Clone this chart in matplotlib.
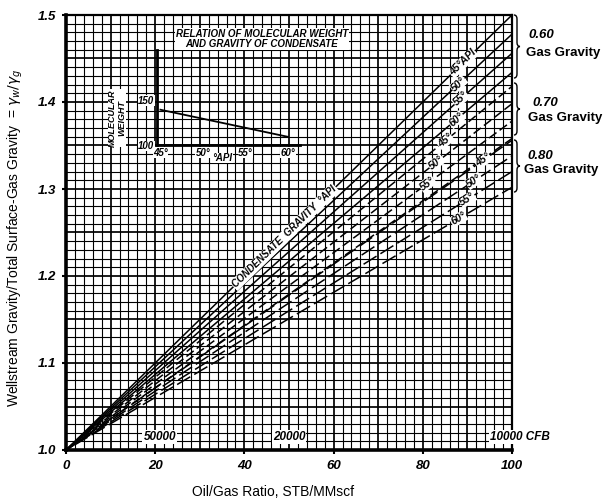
import numpy as np
import matplotlib.pyplot as plt
from matplotlib.patches import PathPatch
from matplotlib.path import Path

# ---- data -----------------------------------------------------------------
gas_gravities = ["0.60", "0.70", "0.80"]
api_labels = ["45°", "50°", "55°", "60°"]
ogr_start, ogr_end = 0, 100
ratio_start = 1.0
# wellstream / gas gravity ratio reached at 100 STB/MMscf
ratio_end_060 = [1.500, 1.478, 1.456, 1.434]
ratio_end_070 = [1.418, 1.398, 1.378, 1.358]
ratio_end_080 = [1.356, 1.338, 1.320, 1.302]
# where each curve carries its API label (oil/gas ratio)
label_x_060 = [89.0, 88.0, 88.5, 87.5]
label_x_070 = [85.0, 83.0, 81.0, None]
label_x_080 = [93.5, 91.5, 90.0, 88.0]

# inset: molecular weight vs condensate gravity
inset_api = [45, 60]
inset_mw = [139, 109]

x_ticks = [0, 20, 40, 60, 80, 100]
y_ticks = [1.0, 1.1, 1.2, 1.3, 1.4, 1.5]
gor_labels = ["50000", "20000", "10000 CFB"]
gor_x = [21, 50, 95]

W, H = 604, 504
FONT = "Liberation Sans"


def fx(px):
    return px / W


def fy(py):
    return 1 - py / H


fig = plt.figure(figsize=(W / 100, H / 100), dpi=100)
ax = fig.add_axes([fx(66), fy(450), fx(512) - fx(66), fy(15) - fy(450)])
ax.set_xlim(0, 100)
ax.set_ylim(1.0, 1.5)

# graph-paper grid
for xv in np.arange(0, 101, 2):
    major = xv % 10 == 0
    ax.axvline(xv, color="black", lw=1.25 if major else 0.8, zorder=1)
for yv in np.arange(1.0, 1.5001, 0.01):
    major = abs(yv * 100 - round(yv * 20) * 5) < 1e-6
    ax.axhline(yv, color="black", lw=1.25 if major else 0.8, zorder=1)

for s in ["left", "bottom"]:
    ax.spines[s].set_linewidth(2.6)
for s in ["top", "right"]:
    ax.spines[s].set_linewidth(1.6)

ax.set_xticks(x_ticks)
ax.set_yticks(y_ticks)
ax.set_xticklabels([str(v) for v in x_ticks])
ax.set_yticklabels([f"{v:.1f}" for v in y_ticks])
ax.tick_params(length=3, width=1.5, pad=4)
for lab in ax.get_xticklabels() + ax.get_yticklabels():
    lab.set_fontfamily(FONT)
    lab.set_fontweight("bold")
    lab.set_fontstyle("italic")
    lab.set_fontsize(9.5)

fig.canvas.draw()

dash_pattern = {"0.60": None, "0.70": (6, 2.5), "0.80": (10, 3)}
groups = [("0.60", ratio_end_060, label_x_060),
          ("0.70", ratio_end_070, label_x_070),
          ("0.80", ratio_end_080, label_x_080)]


def angle_of(r_end):
    p0 = ax.transData.transform((ogr_start, ratio_start))
    p1 = ax.transData.transform((ogr_end, r_end))
    return np.degrees(np.arctan2(p1[1] - p0[1], p1[0] - p0[0]))


for gg, ends, lxs in groups:
    for i, r_end in enumerate(ends):
        pat = dash_pattern[gg]
        ls = "-" if pat is None else (2.2 * i, pat)
        ax.plot([ogr_start, ogr_end], [ratio_start, r_end], color="black",
                lw=1.1, ls=ls, zorder=3, solid_capstyle="butt")
        lx = lxs[i]
        if lx is None:
            continue
        ly = ratio_start + (r_end - ratio_start) * lx / ogr_end
        txt = api_labels[i] + ("API" if (gg == "0.60" and i == 0) else "")
        ax.text(lx, ly, txt, rotation=angle_of(r_end), rotation_mode="anchor",
                ha="center", va="center", fontsize=7.5, fontweight="bold",
                fontstyle="italic", family=FONT, zorder=5,
                bbox=dict(boxstyle="square,pad=0.05", fc="white", ec="none"))

# title along the 45° API / 0.60 curve
r0 = ratio_end_060[0]
ax.text(49, ratio_start + (r0 - ratio_start) * 0.49, "CONDENSATE  GRAVITY  °API",
        rotation=angle_of(r0), rotation_mode="anchor", ha="center", va="center",
        fontsize=7, fontweight="bold", fontstyle="italic", family=FONT, zorder=5,
        bbox=dict(boxstyle="square,pad=0.1", fc="white", ec="none"))

# gas/oil ratio markers along the bottom
for lab, xv in zip(gor_labels, gor_x):
    ha = "left" if "CFB" in lab else "center"
    ax.text(xv, 1.015, lab, ha=ha, va="center", fontsize=8.5, fontweight="bold",
            fontstyle="italic", family=FONT, zorder=5, clip_on=False,
            bbox=dict(boxstyle="square,pad=0.1", fc="white", ec="none"))

# ---- inset ---------------------------------------------------------------
axi = fig.add_axes([fx(157), fy(145), fx(300) - fx(157), fy(50) - fy(145)])
axi.patch.set_alpha(0)
axi.set_xlim(44.6, 61.4)
axi.set_ylim(100, 205)
axi.plot(inset_api, inset_mw, color="black", lw=1.3)
for s in ["top", "right"]:
    axi.spines[s].set_visible(False)
for s in ["left", "bottom"]:
    axi.spines[s].set_linewidth(2.0)
axi.set_xticks([45, 50, 55, 60])
axi.set_xticklabels(["45°", "50°", "55°", "60°"])
axi.set_yticks([100, 150])
axi.set_yticklabels(["100", "150"])
axi.tick_params(length=0, pad=2)
for lab in axi.get_xticklabels() + axi.get_yticklabels():
    lab.set_fontfamily(FONT)
    lab.set_fontweight("bold")
    lab.set_fontstyle("italic")
    lab.set_fontsize(7)
    lab.set_bbox(dict(boxstyle="square,pad=0.05", fc="white", ec="none"))
fig.text(fx(222), fy(158), "°API", ha="center", va="center", fontsize=7,
         fontweight="bold", fontstyle="italic", family=FONT,
         bbox=dict(boxstyle="square,pad=0.05", fc="white", ec="none"))
fig.text(fx(117), fy(118), "MOLECULAR\nWEIGHT", rotation=90, ha="center",
         va="center", fontsize=6.5, fontweight="bold", fontstyle="italic",
         family=FONT, linespacing=1.0,
         bbox=dict(boxstyle="square,pad=0.05", fc="white", ec="none"))
fig.text(fx(262), fy(39), "RELATION OF MOLECULAR WEIGHT\nAND GRAVITY OF CONDENSATE",
         ha="center", va="center", fontsize=7, fontweight="bold",
         fontstyle="italic", family=FONT, linespacing=1.05,
         bbox=dict(boxstyle="square,pad=0.1", fc="white", ec="none"))

# ---- right-hand braces for gas gravity groups ---------------------------
def brace(x0, y_top, y_bot, w=6, r=4):
    xm = x0 + w / 2
    ym = (y_top + y_bot) / 2
    pts = [(x0, y_top), (xm, y_top), (xm, y_top + r), (xm, ym - r),
           (xm, ym), (x0 + w, ym), (xm, ym), (xm, ym + r),
           (xm, y_bot - r), (xm, y_bot), (x0, y_bot)]
    codes = [Path.MOVETO, Path.CURVE3, Path.CURVE3, Path.LINETO,
             Path.CURVE3, Path.CURVE3, Path.CURVE3, Path.CURVE3,
             Path.LINETO, Path.CURVE3, Path.CURVE3]
    verts = [(fx(px), fy(py)) for px, py in pts]
    fig.add_artist(PathPatch(Path(verts, codes), fc="none", ec="black",
                             lw=1.0, transform=fig.transFigure))


brace_spans = [(15, 78), (83, 135), (140, 192)]
value_pos = [(541, 35), (545, 103), (540, 156)]
caption_pos = [(563, 53), (565, 118), (561, 170)]
for gg, (yt, yb), (vx, vy), (cx, cy) in zip(gas_gravities, brace_spans,
                                             value_pos, caption_pos):
    brace(514, yt, yb)
    fig.text(fx(vx), fy(vy), gg, ha="center", va="center", fontsize=9.5,
             fontweight="bold", fontstyle="italic", family=FONT)
    fig.text(fx(cx), fy(cy), "Gas Gravity", ha="center", va="center",
             fontsize=9.5, fontweight="bold", family=FONT)

# ---- axis titles ----------------------------------------------------------
fig.text(fx(273), fy(492), "Oil/Gas Ratio, STB/MMscf", ha="center", va="center",
         fontsize=10, family=FONT)
fig.text(fx(15), fy(238),
         r"Wellstream Gravity/Total Surface-Gas Gravity  = $\gamma_w/\gamma_g$",
         rotation=90, ha="center", va="center", fontsize=10, family=FONT)

fig.savefig("out.png", dpi=100)
